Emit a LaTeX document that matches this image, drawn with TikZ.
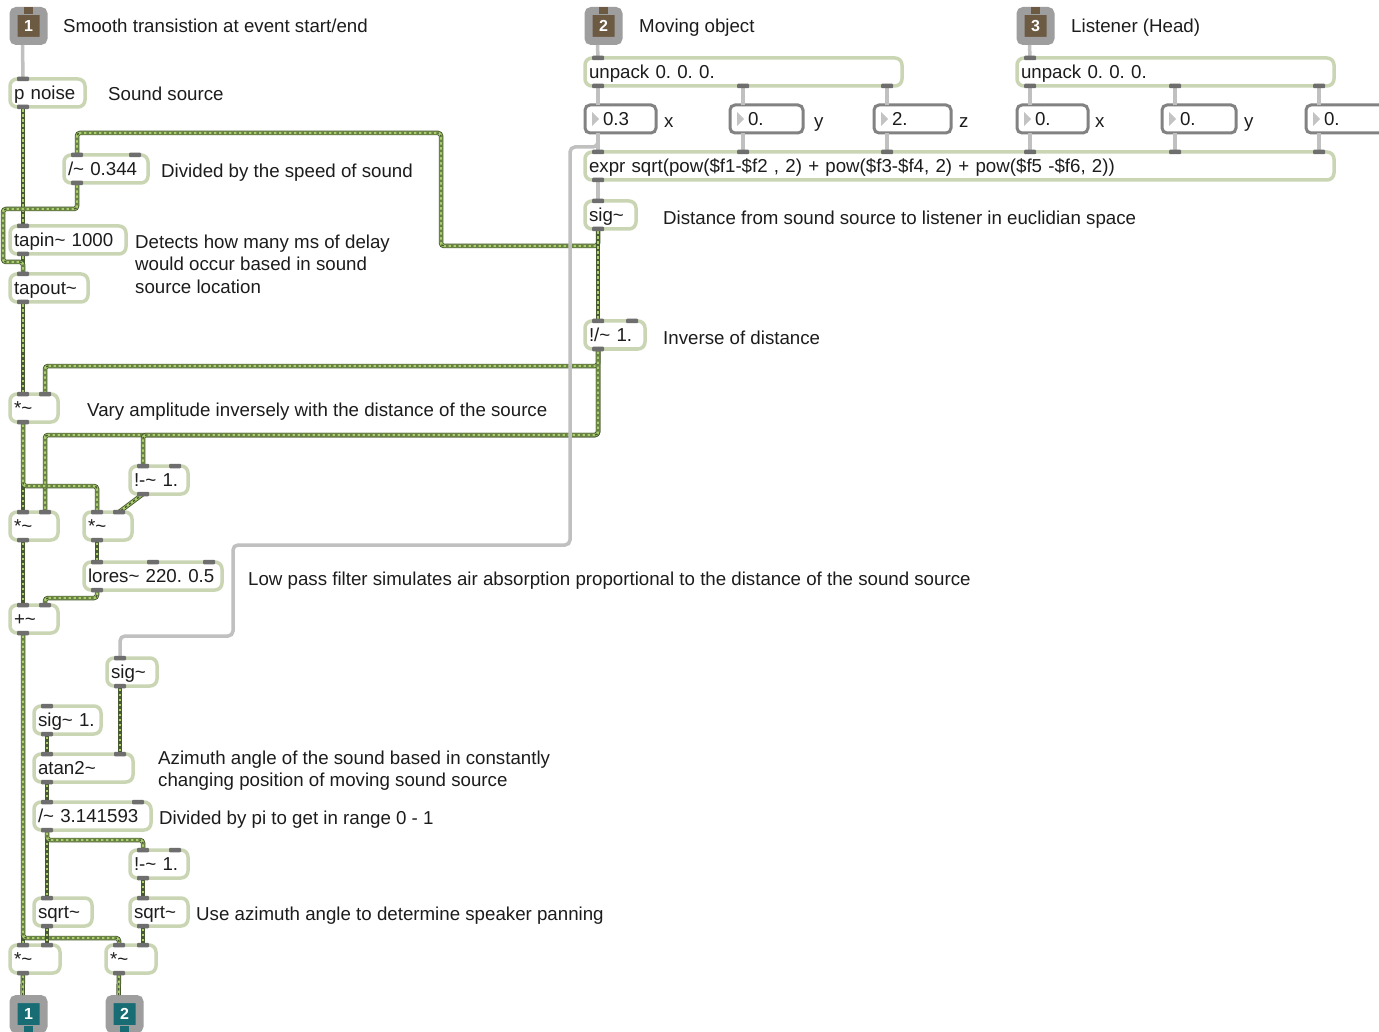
\documentclass[tikz,border=0pt]{standalone}
\usepackage{fontspec}
\setmainfont{Liberation Sans}
\frenchspacing

\definecolor{objborder}{RGB}{202,213,180}
\definecolor{numborder}{RGB}{130,130,130}
\definecolor{numtri}{RGB}{195,195,195}
\definecolor{cordgray}{RGB}{192,192,192}
\definecolor{sigdark}{RGB}{72,88,48}
\definecolor{siggreen}{RGB}{170,208,110}
\definecolor{portgray}{RGB}{110,110,110}
\definecolor{inletgray}{RGB}{158,158,158}
\definecolor{inletbrown}{RGB}{108,90,66}
\definecolor{outletteal}{RGB}{24,108,116}
\definecolor{textcol}{RGB}{28,28,28}

\begin{document}
\begin{tikzpicture}[x=1pt, y=-1pt,
    every node/.style={font=\fontsize{18.7}{22.5}\selectfont},
    obj/.style={draw=objborder, line width=3.5pt, fill=white, rounded corners=7pt, anchor=north west, inner xsep=4pt, inner ysep=0pt, outer sep=0pt, minimum height=28pt, text height=15pt, text depth=1.5pt, align=left, text=textcol},
    numbox/.style={obj, draw=numborder, line width=3pt, rounded corners=5pt},
    inlet/.style={draw=inletgray, line width=8pt, fill=inletbrown, rounded corners=3pt, minimum size=30pt, inner sep=0pt, outer sep=4pt, text=white, font=\bfseries\fontsize{16}{16}\selectfont},
    outlet/.style={inlet, fill=outletteal},
    comment/.style={anchor=base west, inner sep=0pt, text=textcol, align=left},
    port/.style={fill=portgray, minimum width=12pt, minimum height=4.5pt, inner sep=0pt, rounded corners=1pt},
    ctl/.style={draw=cordgray, line width=3.5pt, rounded corners=5pt},
    sig/.style={draw=sigdark, line width=4.5pt, rounded corners=3pt,
        postaction={draw=siggreen, line width=2.6pt},
        postaction={draw=sigdark, line width=1.4pt, dash pattern=on 2.5pt off 2.5pt}}
]
\path[use as bounding box, fill=white] (0,0) rectangle (1379,1032);

% inlets and outlets of the patch
\node[inlet] (in1) at (28.5,26) {1};
\node[inlet] (in2) at (603.5,26) {2};
\node[inlet] (in3) at (1035.5,26) {3};
\node[outlet] (out1) at (28.5,1014) {1};
\node[outlet] (out2) at (124.5,1014) {2};
\foreach \i in {in1, in2, in3}
  \fill[inletbrown] ([xshift=-4.5pt]\i.north) rectangle ([xshift=4.5pt,yshift=-7pt]\i.north);
\foreach \o in {out1, out2}
  \fill[outletteal] ([xshift=-4.5pt]\o.south) rectangle ([xshift=4.5pt,yshift=7pt]\o.south);

% objects, left column
\node[obj, text width=67pt] (noise) at (10,79) {p noise};
\node[obj, text width=76pt] (div344) at (64,155) {/\textasciitilde\ 0.344};
\node[obj, text width=108pt] (tapin) at (10,226) {tapin\textasciitilde\ 1000};
\node[obj, text width=70pt] (tapout) at (10,274) {tapout\textasciitilde};
\node[obj, text width=40pt] (mulA) at (10,394) {*\textasciitilde};
\node[obj, text width=50pt] (invA) at (130,466) {!-\textasciitilde\ 1.};
\node[obj, text width=40pt] (mulB) at (10,512) {*\textasciitilde};
\node[obj, text width=40pt] (mulC) at (84,512) {*\textasciitilde};
\node[obj, text width=130pt] (lores) at (84,562) {lores\textasciitilde\ 220. 0.5};
\node[obj, text width=40pt] (add) at (10,605) {+\textasciitilde};
\node[obj, text width=42pt] (sigB) at (107,658) {sig\textasciitilde};
\node[obj, text width=59pt] (sig1) at (34,706) {sig\textasciitilde\ 1.};
\node[obj, text width=91pt] (atan) at (34,754) {atan2\textasciitilde};
\node[obj, text width=109pt] (divpi) at (34,802) {/\textasciitilde\ 3.141593};
\node[obj, text width=50pt] (invB) at (130,850) {!-\textasciitilde\ 1.};
\node[obj, text width=50pt] (sqrtA) at (34,898) {sqrt\textasciitilde};
\node[obj, text width=50pt] (sqrtB) at (130,898) {sqrt\textasciitilde};
\node[obj, text width=42pt] (mulD) at (10,945) {*\textasciitilde};
\node[obj, text width=42pt] (mulE) at (106,945) {*\textasciitilde};

% objects, top right
\node[obj, text width=309pt] (unpackA) at (585,58) {unpack 0. 0. 0.};
\node[obj, text width=309pt] (unpackB) at (1017,58) {unpack 0. 0. 0.};
\node[numbox, text width=63pt] (nbx1) at (585,105) {\hspace*{14pt}0.3};
\node[numbox, text width=65pt] (nby1) at (730,105) {\hspace*{14pt}0.};
\node[numbox, text width=69pt] (nbz1) at (874,105) {\hspace*{14pt}2.};
\node[numbox, text width=63pt] (nbx2) at (1017,105) {\hspace*{14pt}0.};
\node[numbox, text width=66pt] (nby2) at (1162,105) {\hspace*{14pt}0.};
\node[numbox, text width=71pt] (nbz2) at (1306,105) {\hspace*{14pt}0.};
\foreach \n in {nbx1, nby1, nbz1, nbx2, nby2, nbz2}{
  \fill[numtri] ([xshift=7pt,yshift=7pt]\n.west) -- ([xshift=14pt]\n.west) -- ([xshift=7pt,yshift=-7pt]\n.west) -- cycle;
  \coordinate (\n-p) at ([xshift=13pt]\n.south west);
}
\node[obj, text width=741pt] (expr) at (585,152) {expr sqrt(pow(\$f1-\$f2 , 2) + pow(\$f3-\$f4, 2) + pow(\$f5 -\$f6, 2))};
\node[obj, text width=43pt] (sigA) at (585,201) {sig\textasciitilde};
\node[obj, text width=52pt] (rdiv) at (585,321) {!/\textasciitilde\ 1.};

% comments
\node[comment] (t1) at (63,32.5) {Smooth transistion at event start/end};
\node[comment] (t2) at (639,32.5) {Moving object};
\node[comment] (t3) at (1071,32.5) {Listener (Head)};
\node[comment] (lx1) at (664,128) {x};
\node[comment] (ly1) at (814,128) {y};
\node[comment] (lz1) at (959,128) {z};
\node[comment] (lx2) at (1095,128) {x};
\node[comment] (ly2) at (1244,128) {y};
\node[comment] (tnoise) at (108,100.5) {Sound source};
\node[comment] (tspeed) at (161,177.5) {Divided by the speed of sound};
\node[comment] (tdelay) at (135,293.5) {Detects how many ms of delay\\would occur based in sound\\source location};
\node[comment] (tdist) at (663,224.5) {Distance from sound source to listener in euclidian space};
\node[comment] (tinv) at (663,344.5) {Inverse of distance};
\node[comment] (tamp) at (87,416.5) {Vary amplitude inversely with the distance of the source};
\node[comment] (tlp) at (248,585.5) {Low pass filter simulates air absorption proportional to the distance of the sound source};
\node[comment] (tazi) at (158,786.5) {Azimuth angle of the sound based in constantly\\changing position of moving sound source};
\node[comment] (tpi) at (159,824.5) {Divided by pi to get in range 0 - 1};
\node[comment] (tpan) at (196,920.5) {Use azimuth angle to determine speaker panning};

% signal cords
\draw[sig] ([xshift=13pt]noise.south west) -- ([xshift=13pt]tapin.north west);
\draw[sig] ([xshift=13pt]tapin.south west) -- ([xshift=13pt]tapout.north west);
\draw[sig] ([xshift=13pt]div344.south west) -- ++(0,26) -| (3,262) -| ([xshift=13pt]tapout.north west);
\draw[sig] ([xshift=13pt]sigA.south west) -- ++(0,17) -| (441,133) -| ([xshift=13pt]div344.north west);
\draw[sig] ([xshift=13pt]sigA.south west) -- ([xshift=13pt]rdiv.north west);
\draw[sig] ([xshift=13pt]rdiv.south west) -- ++(0,17) -| ([xshift=-13pt]mulA.north east);
\draw[sig] ([xshift=13pt]rdiv.south west) -- ++(0,86) -| ([xshift=-13pt]mulB.north east);
\draw[sig] ([xshift=13pt]rdiv.south west) -- ++(0,86) -| ([xshift=13pt]invA.north west);
\draw[sig] ([xshift=13pt]tapout.south west) -- ([xshift=13pt]mulA.north west);
\draw[sig] ([xshift=13pt]mulA.south west) -- ([xshift=13pt]mulB.north west);
\draw[sig] ([xshift=13pt]mulA.south west) -- ++(0,64) -| ([xshift=13pt]mulC.north west);
\draw[sig] ([xshift=13pt]invA.south west) -- ([xshift=-13pt]mulC.north east);
\draw[sig] ([xshift=13pt]mulB.south west) -- ([xshift=13pt]add.north west);
\draw[sig] ([xshift=13pt]mulC.south west) -- ([xshift=13pt]lores.north west);
\draw[sig] ([xshift=13pt]lores.south west) -- ++(0,8) -| ([xshift=-13pt]add.north east);
\draw[sig] ([xshift=13pt]add.south west) -- ([xshift=13pt]mulD.north west);
\draw[sig] ([xshift=13pt]add.south west) -- ++(0,305) -| ([xshift=13pt]mulE.north west);
\draw[sig] ([xshift=13pt]sigB.south west) -- ([xshift=-13pt]atan.north east);
\draw[sig] ([xshift=13pt]sig1.south west) -- ([xshift=13pt]atan.north west);
\draw[sig] ([xshift=13pt]atan.south west) -- ([xshift=13pt]divpi.north west);
\draw[sig] ([xshift=13pt]divpi.south west) -- ([xshift=13pt]sqrtA.north west);
\draw[sig] ([xshift=13pt]divpi.south west) -- ++(0,10) -| ([xshift=13pt]invB.north west);
\draw[sig] ([xshift=13pt]invB.south west) -- ([xshift=13pt]sqrtB.north west);
\draw[sig] ([xshift=13pt]sqrtA.south west) -- ([xshift=-13pt]mulD.north east);
\draw[sig] ([xshift=13pt]sqrtB.south west) -- ([xshift=-13pt]mulE.north east);
\draw[sig] ([xshift=13pt]mulD.south west) -- ([xshift=13pt]out1.north west);
\draw[sig] ([xshift=13pt]mulE.south west) -- ([xshift=13pt]out2.north west);

% control cords
\draw[ctl] ([xshift=13pt]in1.south west) -- ([xshift=13pt]noise.north west);
\draw[ctl] ([xshift=13pt]in2.south west) -- ([xshift=13pt]unpackA.north west);
\draw[ctl] ([xshift=13pt]in3.south west) -- ([xshift=13pt]unpackB.north west);
\foreach \n/\u in {nbx1/unpackA, nby1/unpackA, nbz1/unpackA, nbx2/unpackB, nby2/unpackB, nbz2/unpackB}{
  \draw[ctl] (\n-p |- \u.south) -- (\n-p |- \n.north);
  \draw[ctl] (\n-p) -- (\n-p |- expr.north);
}
\draw[ctl] ([xshift=13pt]expr.south west) -- ([xshift=13pt]sigA.north west);
\draw[ctl] (nbx1-p) -- ++(0,14) -| (570,545) -| (233,636) -| ([xshift=13pt]sigB.north west);

% port tabs
\foreach \b in {noise, div344, tapin, tapout, mulA, invA, mulB, mulC, lores, add, sigB, sig1, atan, divpi, invB, sqrtA, sqrtB, mulD, mulE, unpackA, unpackB, expr, sigA, rdiv}{
  \node[port] (\b-in) at ([xshift=13pt]\b.north west) {};
  \node[port] (\b-out) at ([xshift=13pt]\b.south west) {};
}
\foreach \b in {div344, mulA, invA, mulB, mulC, lores, add, atan, divpi, invB, mulD, mulE, rdiv}
  \node[port] (\b-in2) at ([xshift=-13pt]\b.north east) {};
\node[port] (lores-in3) at (lores.north) {};
\foreach \n/\u in {nby1/unpackA, nbz1/unpackA, nby2/unpackB, nbz2/unpackB}
  \node[port] (\n-u) at (\n-p |- \u.south) {};
\foreach \n in {nby1, nbz1, nbx2, nby2, nbz2}
  \node[port] (\n-e) at (\n-p |- expr.north) {};

\end{tikzpicture}
\end{document}
